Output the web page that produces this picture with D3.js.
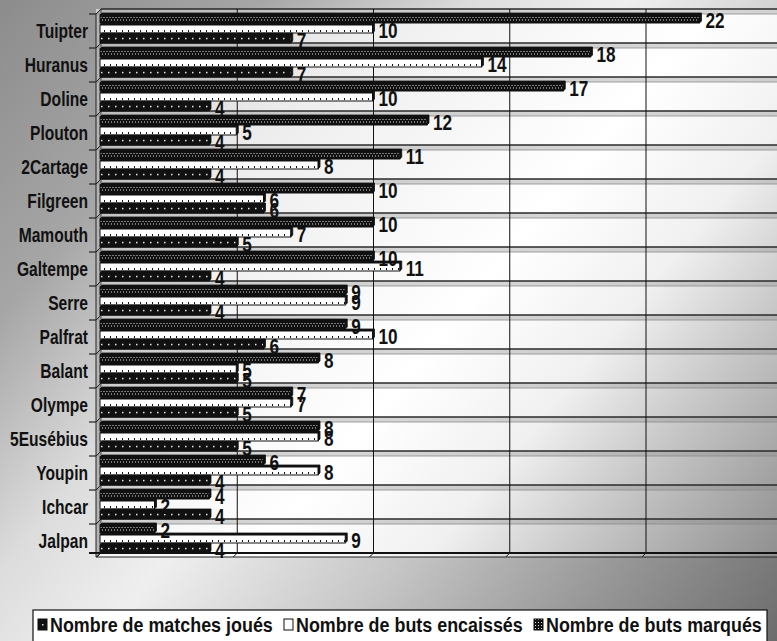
<!DOCTYPE html>
<html>
<head>
<meta charset="utf-8">
<script src="https://cdn.jsdelivr.net/npm/d3@7"></script>
<style>
  html, body { margin: 0; padding: 0; background: #fff; }
  svg { display: block; }
</style>
</head>
<body>
<script>
// Team statistics: goals scored, goals conceded and matches played
const categories = ["Tuipter", "Huranus", "Doline", "Plouton", "2Cartage", "Filgreen", "Mamouth", "Galtempe",
                    "Serre", "Palfrat", "Balant", "Olympe", "5Eusébius", "Youpin", "Ichcar", "Jalpan"];
const seriesNames = ["Nombre de matches joués", "Nombre de buts encaissés", "Nombre de buts marqués"];
const matchesJoues = [7, 7, 4, 4, 4, 6, 5, 4, 4, 6, 5, 5, 5, 4, 4, 4];
const butsEncaisses = [10, 14, 10, 5, 8, 6, 7, 11, 9, 10, 5, 7, 8, 8, 2, 9];
const butsMarques = [22, 18, 17, 12, 11, 10, 10, 10, 9, 9, 8, 7, 8, 6, 4, 2];
const xTickValues = [0, 5, 10, 15, 20, 25];

const W = 777, H = 641;
const FONT = '"Liberation Sans", Arial, sans-serif';
const NARROW = 0.78;  // horizontal squeeze for the condensed lettering
const DEPTH = 5;      // 3D depth of the floor / wall
const BAR_DEPTH = 2;  // 3D depth of each bar

const seriesValues = {
  "Nombre de matches joués": matchesJoues,
  "Nombre de buts encaissés": butsEncaisses,
  "Nombre de buts marqués": butsMarques
};
// top-to-bottom order inside each row
const rowOrder = ["Nombre de buts marqués", "Nombre de buts encaissés", "Nombre de matches joués"];

const svg = d3.select("body").append("svg")
  .attr("width", W).attr("height", H)
  .attr("viewBox", `0 0 ${W} ${H}`);

const defs = svg.append("defs");

function diagGradient(id, stops) {
  const gr = defs.append("linearGradient").attr("id", id)
    .attr("gradientUnits", "userSpaceOnUse")
    .attr("x1", 0).attr("y1", 0).attr("x2", W).attr("y2", H);
  stops.forEach(([o, c]) => gr.append("stop").attr("offset", o).attr("stop-color", c));
}
// chart area and plot area gradients
diagGradient("bgGrad", [[0, "#8c8c8c"], [0.2, "#a6a6a6"], [0.36, "#dcdcdc"], [0.48, "#efefef"],
                        [0.66, "#c6c6c6"], [0.82, "#9a9a9a"], [1, "#6c6c6c"]]);
diagGradient("plotGrad", [[0, "#c4c4c4"], [0.3, "#eeeeee"], [0.55, "#ffffff"], [0.68, "#f0f0f0"],
                          [0.78, "#cacaca"], [0.95, "#8e8e8e"], [1, "#848484"]]);

svg.append("rect").attr("width", W).attr("height", H).attr("fill", "url(#bgGrad)");

// scales
const x = d3.scaleLinear().domain([0, 25]).range([100, 100 + 25 * 27.25]);
const y = d3.scaleBand().domain(categories).range([9, 553]).padding(0);
const sub = d3.scaleBand().domain(rowOrder).range([6, 34]).paddingInner(0.2);
const band0 = y.range()[0];
const yEnd = y.range()[1];
const step = y.step();

// condensed bold text helper
function narrowText(sel, size) {
  return sel.attr("font-family", FONT).attr("font-weight", "bold")
    .attr("font-size", size).attr("fill", "#111");
}

// bar fill patterns, aligned to the row bands
const pMarq = defs.append("pattern").attr("id", "pMarq")
  .attr("patternUnits", "userSpaceOnUse").attr("x", 0).attr("y", band0)
  .attr("width", 3).attr("height", step);
pMarq.append("rect").attr("width", 3).attr("height", step).attr("fill", "#111");
[sub(rowOrder[0]) + 2, sub(rowOrder[0]) + 4.5].forEach((yy, k) =>
  pMarq.append("rect").attr("x", k ? 0 : 1.5).attr("y", yy).attr("width", 1).attr("height", 1).attr("fill", "#e0e0e0"));

const pEnc = defs.append("pattern").attr("id", "pEnc")
  .attr("patternUnits", "userSpaceOnUse").attr("x", 0).attr("y", band0)
  .attr("width", 6).attr("height", step);
pEnc.append("rect").attr("width", 6).attr("height", step).attr("fill", "#fff");
pEnc.append("rect").attr("x", 2).attr("y", sub(rowOrder[1]) + sub.bandwidth() - 3)
  .attr("width", 1).attr("height", 2).attr("fill", "#111");

const pMat = defs.append("pattern").attr("id", "pMat")
  .attr("patternUnits", "userSpaceOnUse").attr("x", 0).attr("y", band0)
  .attr("width", 7).attr("height", step);
pMat.append("rect").attr("width", 7).attr("height", step).attr("fill", "#111");
pMat.append("rect").attr("x", 3).attr("y", sub(rowOrder[2]) + sub.bandwidth() / 2 - 1.2)
  .attr("width", 1.5).attr("height", 1.5).attr("fill", "#e8e8e8");

// small uniform pattern for the legend key
const pMarqKey = defs.append("pattern").attr("id", "pMarqKey")
  .attr("patternUnits", "userSpaceOnUse").attr("width", 3).attr("height", 3);
pMarqKey.append("rect").attr("width", 3).attr("height", 3).attr("fill", "#111");
pMarqKey.append("rect").attr("x", 1).attr("y", 1).attr("width", 1).attr("height", 1).attr("fill", "#ddd");

const fills = {
  "Nombre de buts marqués": "url(#pMarq)",
  "Nombre de buts encaissés": "url(#pEnc)",
  "Nombre de matches joués": "url(#pMat)"
};

const xRight = W + 10;
const g = svg.append("g");

// plot area
g.append("rect").attr("x", x(0) - DEPTH + 1).attr("y", band0)
  .attr("width", xRight - (x(0) - DEPTH + 1)).attr("height", yEnd + DEPTH - 1 - band0)
  .attr("fill", "url(#plotGrad)");

// left wall
g.append("path")
  .attr("d", `M${x(0) - DEPTH + 1},${band0 + DEPTH} L${x(0) + 1},${band0} L${x(0) + 1},${yEnd} L${x(0) - DEPTH + 1},${yEnd + DEPTH - 1}Z`)
  .attr("fill", "#b4b4b4").attr("stroke", "#222").attr("stroke-width", 1);

// row strips (3D floor of each category row)
categories.forEach(c => {
  const B = y(c);
  g.append("path")
    .attr("d", `M${x(0) - DEPTH + 1},${B + DEPTH} L${x(0) + 1},${B} L${xRight},${B} L${xRight},${B + DEPTH} Z`)
    .attr("fill", "#8a8a8a").attr("fill-opacity", 0.35);
  g.append("line").attr("x1", x(0) + 1).attr("x2", xRight).attr("y1", B).attr("y2", B)
    .attr("stroke", "#2a2a2a").attr("stroke-width", 1.6);
  g.append("line").attr("x1", x(0) - DEPTH + 1).attr("x2", xRight).attr("y1", B + DEPTH).attr("y2", B + DEPTH)
    .attr("stroke", "#8a8a8a").attr("stroke-width", 0.8);
  // axis tick and wall edge
  g.append("line").attr("x1", x(0) - DEPTH - 6).attr("x2", x(0) - DEPTH + 1).attr("y1", B + DEPTH).attr("y2", B + DEPTH)
    .attr("stroke", "#222").attr("stroke-width", 1.2);
  g.append("line").attr("x1", x(0) - DEPTH + 1).attr("x2", x(0) + 1).attr("y1", B + DEPTH).attr("y2", B)
    .attr("stroke", "#222").attr("stroke-width", 1);
});

// vertical gridlines on the back wall
g.selectAll("line.grid").data(xTickValues.filter(v => v > 0)).join("line")
  .attr("class", "grid")
  .attr("x1", d => x(d) + 1).attr("x2", d => x(d) + 1)
  .attr("y1", band0).attr("y2", yEnd)
  .attr("stroke", "#111").attr("stroke-width", 1);

// floor at the bottom
g.append("line").attr("x1", x(0) - DEPTH - 6).attr("x2", xRight).attr("y1", yEnd).attr("y2", yEnd)
  .attr("stroke", "#111").attr("stroke-width", 2);
g.append("line").attr("x1", x(0) - DEPTH + 1).attr("x2", xRight).attr("y1", yEnd + DEPTH - 1).attr("y2", yEnd + DEPTH - 1)
  .attr("stroke", "#222").attr("stroke-width", 1);
g.selectAll("line.floorTick").data(xTickValues).join("line")
  .attr("class", "floorTick")
  .attr("x1", d => x(d) - DEPTH + 2).attr("x2", d => x(d) + 1)
  .attr("y1", yEnd + DEPTH - 1).attr("y2", yEnd)
  .attr("stroke", "#222").attr("stroke-width", 1);

// bars
const barData = [];
categories.forEach((c, i) => {
  rowOrder.forEach(s => {
    barData.push({ cat: c, series: s, value: seriesValues[s][i] });
  });
});

const bars = g.append("g").selectAll("g.bar").data(barData).join("g").attr("class", "bar");
bars.each(function (d) {
  const el = d3.select(this);
  const x0 = x(0), x1 = x(d.value);
  const yt = y(d.cat) + sub(d.series), h = sub.bandwidth();
  const dd = BAR_DEPTH;
  // 3D top and end faces
  el.append("path")
    .attr("d", `M${x0},${yt} L${x0 + dd},${yt - dd} L${x1 + dd},${yt - dd} L${x1 + dd},${yt + h - dd} L${x1},${yt + h} L${x1},${yt} Z`)
    .attr("fill", "#111").attr("stroke", "#111").attr("stroke-width", 0.8);
  el.append("rect")
    .attr("x", x0).attr("y", yt).attr("width", x1 - x0).attr("height", h)
    .attr("fill", fills[d.series]).attr("stroke", "#111").attr("stroke-width", 1);
});

// value labels
narrowText(g.append("g").selectAll("text").data(barData).join("text"), 22)
  .attr("transform", d => `translate(${x(d.value) + 6},${y(d.cat) + sub(d.series) + sub.bandwidth() / 2 + 9}) scale(${NARROW},1)`)
  .text(d => d.value);

// category labels
narrowText(g.append("g").selectAll("text").data(categories).join("text"), 20)
  .attr("transform", d => `translate(88,${y(d) + 29}) scale(${NARROW},1)`)
  .attr("text-anchor", "end")
  .text(d => d);

// legend
const lg = svg.append("g");
lg.append("rect").attr("x", 33).attr("y", 610).attr("width", 734).attr("height", 45)
  .attr("fill", "#fff").attr("stroke", "#111").attr("stroke-width", 1.2);

const keyFill = {
  "Nombre de matches joués": "#111",
  "Nombre de buts encaissés": "#fff",
  "Nombre de buts marqués": "url(#pMarqKey)"
};
const legendItems = lg.selectAll("g.item").data(seriesNames).join("g").attr("class", "item");
legendItems.append("rect").attr("class", "key").attr("width", 9).attr("height", 11).attr("y", 619)
  .attr("fill", d => keyFill[d]).attr("stroke", "#111").attr("stroke-width", 1);
legendItems.filter(d => d === "Nombre de matches joués").append("rect").attr("class", "dot")
  .attr("y", 624).attr("width", 1.5).attr("height", 1.5).attr("fill", "#ddd");
const legendTexts = narrowText(legendItems.append("text"), 20).text(d => d);

// fit the legend entries across the box
const keyW = 12, gap = 11;
const natural = legendTexts.nodes().map(n => n.getComputedTextLength());
const avail = 762 - 38 - seriesNames.length * keyW - (seriesNames.length - 1) * gap;
const sx = avail / d3.sum(natural);
let lx = 38;
legendItems.each(function (d, i) {
  const item = d3.select(this);
  item.select("rect.key").attr("x", lx);
  item.select("rect.dot").attr("x", lx + 4);
  item.select("text").attr("transform", `translate(${lx + keyW},632) scale(${sx},1)`);
  lx += keyW + natural[i] * sx + gap;
});
</script>
</body>
</html>
